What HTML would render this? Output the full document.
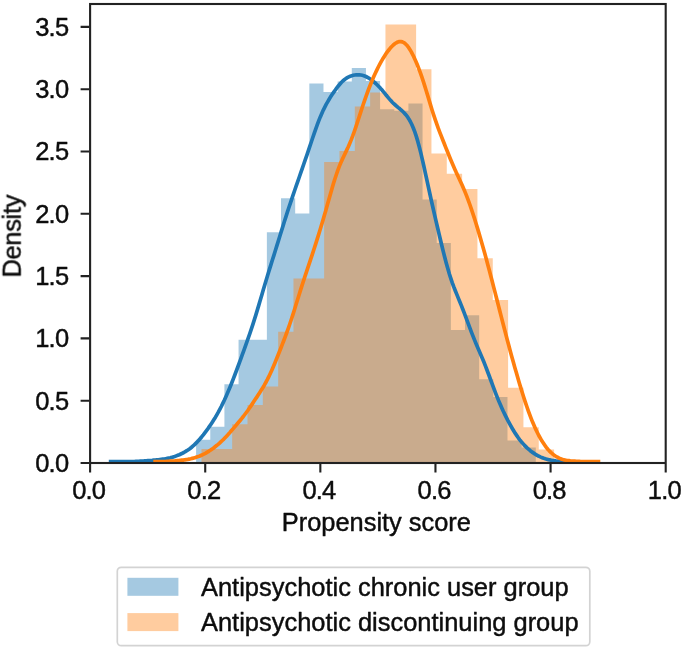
<!DOCTYPE html>
<html><head><meta charset="utf-8"><title>Propensity score density</title>
<style>
html,body{margin:0;padding:0;background:#fff;}
body{width:685px;height:650px;overflow:hidden;position:relative;font-family:"Liberation Sans",sans-serif;}
</style></head><body>
<svg width="685" height="650" viewBox="0 0 685 650" style="position:absolute;left:0;top:0;display:block">
<rect x="0" y="0" width="685" height="650" fill="#fff"/>
<defs><clipPath id="ax"><rect x="90.1" y="4.0" width="575.6" height="460.2"/></clipPath></defs>
<g clip-path="url(#ax)">
<path d="M196.10,463.00 L196.10,439.80 L210.25,439.80 L210.25,426.70 L224.41,426.70 L224.41,384.30 L238.56,384.30 L238.56,339.70 L252.72,339.70 L252.72,339.70 L266.87,339.70 L266.87,232.30 L281.02,232.30 L281.02,198.30 L295.18,198.30 L295.18,213.50 L309.33,213.50 L309.33,83.40 L323.49,83.40 L323.49,92.00 L337.64,92.00 L337.64,81.60 L351.79,81.60 L351.79,68.00 L365.95,68.00 L365.95,81.00 L380.10,81.00 L380.10,109.20 L394.26,109.20 L394.26,110.80 L408.41,110.80 L408.41,103.50 L422.56,103.50 L422.56,199.50 L436.72,199.50 L436.72,243.00 L450.87,243.00 L450.87,330.10 L465.03,330.10 L465.03,315.30 L479.18,315.30 L479.18,379.30 L493.33,379.30 L493.33,396.90 L507.49,396.90 L507.49,440.50 L521.64,440.50 L521.64,447.50 L535.80,447.50 L535.80,463.00 Z" fill="#1f77b4" fill-opacity="0.4"/>
<path d="M201.50,463.00 L201.50,449.00 L216.83,449.00 L216.83,449.00 L232.16,449.00 L232.16,424.30 L247.49,424.30 L247.49,404.90 L262.82,404.90 L262.82,386.50 L278.15,386.50 L278.15,331.80 L293.48,331.80 L293.48,278.50 L308.81,278.50 L308.81,278.50 L324.14,278.50 L324.14,162.00 L339.47,162.00 L339.47,151.00 L354.80,151.00 L354.80,106.40 L370.13,106.40 L370.13,92.50 L385.46,92.50 L385.46,24.60 L400.79,24.60 L400.79,24.60 L416.12,24.60 L416.12,69.20 L431.45,69.20 L431.45,153.40 L446.78,153.40 L446.78,173.80 L462.11,173.80 L462.11,189.00 L477.44,189.00 L477.44,258.20 L492.77,258.20 L492.77,300.00 L508.10,300.00 L508.10,387.70 L523.43,387.70 L523.43,427.30 L538.76,427.30 L538.76,449.60 L554.09,449.60 L554.09,463.00 Z" fill="#ff7f0e" fill-opacity="0.4"/>
<path d="M108.8,461.7 L110.3,461.7 L111.8,461.7 L113.3,461.7 L114.8,461.7 L116.3,461.7 L117.8,461.7 L119.3,461.7 L120.8,461.7 L122.3,461.7 L123.8,461.7 L125.3,461.6 L126.8,461.6 L128.3,461.6 L129.8,461.6 L131.3,461.6 L132.8,461.5 L134.3,461.5 L135.8,461.4 L137.3,461.3 L138.8,461.3 L140.3,461.2 L141.8,461.1 L143.3,461.0 L144.8,460.9 L146.3,460.8 L147.8,460.7 L149.3,460.6 L150.8,460.5 L152.3,460.4 L153.8,460.2 L155.3,460.1 L156.8,459.9 L158.3,459.8 L159.8,459.6 L161.3,459.4 L162.8,459.2 L164.3,459.0 L165.8,458.7 L167.3,458.4 L168.8,458.1 L170.3,457.8 L171.8,457.4 L173.3,456.9 L174.8,456.5 L176.3,455.9 L177.8,455.3 L179.3,454.7 L180.8,454.0 L182.3,453.3 L183.8,452.5 L185.3,451.6 L186.8,450.7 L188.3,449.7 L189.8,448.7 L191.3,447.5 L192.8,446.2 L194.3,444.9 L195.8,443.4 L197.3,441.9 L198.8,440.2 L200.3,438.5 L201.8,436.7 L203.3,434.8 L204.8,432.8 L206.3,430.8 L207.8,428.8 L209.3,426.7 L210.8,424.5 L212.3,422.2 L213.8,419.8 L215.3,417.4 L216.8,414.8 L218.3,412.2 L219.8,409.4 L221.3,406.5 L222.8,403.4 L224.3,400.3 L225.8,397.0 L227.3,393.6 L228.8,390.1 L230.3,386.5 L231.8,382.8 L233.3,378.9 L234.8,375.0 L236.3,371.0 L237.8,367.0 L239.3,362.9 L240.8,358.8 L242.3,354.7 L243.8,350.6 L245.3,346.4 L246.8,342.2 L248.3,337.9 L249.8,333.6 L251.3,329.2 L252.8,324.6 L254.3,319.9 L255.8,315.1 L257.3,310.1 L258.8,305.1 L260.3,300.0 L261.8,294.9 L263.3,289.8 L264.8,284.7 L266.3,279.7 L267.8,274.8 L269.3,269.9 L270.8,265.1 L272.3,260.3 L273.8,255.6 L275.3,250.8 L276.8,245.9 L278.3,241.1 L279.8,236.2 L281.3,231.4 L282.8,226.6 L284.3,221.8 L285.8,217.1 L287.3,212.4 L288.8,207.8 L290.3,203.3 L291.8,198.8 L293.3,194.4 L294.8,190.0 L296.3,185.7 L297.8,181.3 L299.3,177.0 L300.8,172.7 L302.3,168.4 L303.8,164.0 L305.3,159.7 L306.8,155.3 L308.3,150.9 L309.8,146.4 L311.3,142.0 L312.8,137.5 L314.3,133.1 L315.8,128.8 L317.3,124.7 L318.8,120.7 L320.3,116.9 L321.8,113.4 L323.3,110.1 L324.8,107.1 L326.3,104.2 L327.8,101.6 L329.3,99.0 L330.8,96.6 L332.3,94.3 L333.8,92.1 L335.3,90.0 L336.8,87.9 L338.3,86.0 L339.8,84.2 L341.3,82.5 L342.8,81.0 L344.3,79.8 L345.8,78.6 L347.3,77.7 L348.8,76.9 L350.3,76.2 L351.8,75.7 L353.3,75.3 L354.8,75.0 L356.3,74.8 L357.8,74.8 L359.3,74.8 L360.8,75.0 L362.3,75.3 L363.8,75.7 L365.3,76.3 L366.8,77.0 L368.3,77.8 L369.8,78.8 L371.3,79.8 L372.8,81.0 L374.3,82.2 L375.8,83.5 L377.3,85.0 L378.8,86.5 L380.3,88.1 L381.8,89.8 L383.3,91.6 L384.8,93.4 L386.3,95.3 L387.8,97.1 L389.3,98.9 L390.8,100.6 L392.3,102.2 L393.8,103.7 L395.3,105.0 L396.8,106.3 L398.3,107.6 L399.8,108.8 L401.3,110.1 L402.8,111.5 L404.3,113.0 L405.8,114.7 L407.3,116.6 L408.8,118.9 L410.3,121.5 L411.8,124.5 L413.3,128.0 L414.8,131.9 L416.3,136.4 L417.8,141.4 L419.3,147.0 L420.8,152.9 L422.3,159.3 L423.8,165.9 L425.3,172.8 L426.8,179.7 L428.3,186.6 L429.8,193.5 L431.3,200.3 L432.8,207.0 L434.3,213.6 L435.8,220.1 L437.3,226.5 L438.8,232.9 L440.3,239.2 L441.8,245.5 L443.3,251.6 L444.8,257.5 L446.3,263.2 L447.8,268.6 L449.3,273.7 L450.8,278.4 L452.3,282.8 L453.8,286.9 L455.3,290.7 L456.8,294.4 L458.3,298.1 L459.8,301.7 L461.3,305.4 L462.8,309.2 L464.3,313.1 L465.8,317.1 L467.3,321.1 L468.8,325.2 L470.3,329.2 L471.8,333.1 L473.3,336.9 L474.8,340.6 L476.3,344.2 L477.8,347.7 L479.3,351.2 L480.8,354.7 L482.3,358.2 L483.8,361.8 L485.3,365.6 L486.8,369.5 L488.3,373.5 L489.8,377.5 L491.3,381.6 L492.8,385.7 L494.3,389.7 L495.8,393.6 L497.3,397.4 L498.8,401.1 L500.3,404.6 L501.8,408.0 L503.3,411.3 L504.8,414.4 L506.3,417.4 L507.8,420.4 L509.3,423.2 L510.8,425.9 L512.3,428.5 L513.8,431.0 L515.3,433.4 L516.8,435.6 L518.3,437.8 L519.8,439.8 L521.3,441.7 L522.8,443.4 L524.3,445.1 L525.8,446.6 L527.3,448.1 L528.8,449.4 L530.3,450.7 L531.8,451.9 L533.3,452.9 L534.8,453.9 L536.3,454.8 L537.8,455.7 L539.3,456.4 L540.8,457.1 L542.3,457.7 L543.8,458.3 L545.3,458.8 L546.8,459.2 L548.3,459.6 L549.8,459.9 L551.3,460.2 L552.8,460.5 L554.3,460.7 L555.8,460.9 L557.3,461.0 L558.8,461.2 L560.3,461.3 L561.8,461.4 L563.3,461.5 L564.8,461.5 L566.3,461.6 L567.8,461.6" fill="none" stroke="#1f77b4" stroke-width="3.7" stroke-linejoin="round" stroke-linecap="butt"/>
<path d="M153.3,461.7 L154.8,461.7 L156.3,461.7 L157.8,461.6 L159.3,461.6 L160.8,461.6 L162.3,461.5 L163.8,461.5 L165.3,461.5 L166.8,461.4 L168.3,461.3 L169.8,461.2 L171.3,461.2 L172.8,461.1 L174.3,461.0 L175.8,460.8 L177.3,460.7 L178.8,460.6 L180.3,460.4 L181.8,460.2 L183.3,460.1 L184.8,459.8 L186.3,459.6 L187.8,459.4 L189.3,459.1 L190.8,458.8 L192.3,458.4 L193.8,458.0 L195.3,457.6 L196.8,457.1 L198.3,456.6 L199.8,456.0 L201.3,455.3 L202.8,454.6 L204.3,453.9 L205.8,453.1 L207.3,452.2 L208.8,451.3 L210.3,450.3 L211.8,449.2 L213.3,448.2 L214.8,447.0 L216.3,445.8 L217.8,444.6 L219.3,443.3 L220.8,441.9 L222.3,440.5 L223.8,439.1 L225.3,437.5 L226.8,435.9 L228.3,434.3 L229.8,432.6 L231.3,430.8 L232.8,429.1 L234.3,427.4 L235.8,425.6 L237.3,423.8 L238.8,422.0 L240.3,420.2 L241.8,418.4 L243.3,416.5 L244.8,414.5 L246.3,412.5 L247.8,410.5 L249.3,408.3 L250.8,406.1 L252.3,403.9 L253.8,401.6 L255.3,399.3 L256.8,397.1 L258.3,394.8 L259.8,392.5 L261.3,390.1 L262.8,387.7 L264.3,385.2 L265.8,382.5 L267.3,379.7 L268.8,376.7 L270.3,373.5 L271.8,370.2 L273.3,366.7 L274.8,363.2 L276.3,359.5 L277.8,355.8 L279.3,352.0 L280.8,348.2 L282.3,344.4 L283.8,340.5 L285.3,336.6 L286.8,332.5 L288.3,328.3 L289.8,324.0 L291.3,319.5 L292.8,314.9 L294.3,310.2 L295.8,305.3 L297.3,300.5 L298.8,295.7 L300.3,290.9 L301.8,286.1 L303.3,281.5 L304.8,276.9 L306.3,272.4 L307.8,267.9 L309.3,263.4 L310.8,258.9 L312.3,254.4 L313.8,249.8 L315.3,245.1 L316.8,240.4 L318.3,235.6 L319.8,230.8 L321.3,225.8 L322.8,220.7 L324.3,215.6 L325.8,210.4 L327.3,205.1 L328.8,199.8 L330.3,194.5 L331.8,189.2 L333.3,184.1 L334.8,179.3 L336.3,174.7 L337.8,170.4 L339.3,166.4 L340.8,162.8 L342.3,159.4 L343.8,156.2 L345.3,153.1 L346.8,149.9 L348.3,146.7 L349.8,143.2 L351.3,139.6 L352.8,135.7 L354.3,131.5 L355.8,127.1 L357.3,122.6 L358.8,118.0 L360.3,113.4 L361.8,108.8 L363.3,104.2 L364.8,99.8 L366.3,95.6 L367.8,91.5 L369.3,87.5 L370.8,83.7 L372.3,80.1 L373.8,76.6 L375.3,73.3 L376.8,70.1 L378.3,67.0 L379.8,64.2 L381.3,61.4 L382.8,58.8 L384.3,56.4 L385.8,54.1 L387.3,51.9 L388.8,50.0 L390.3,48.1 L391.8,46.5 L393.3,45.0 L394.8,43.8 L396.3,42.8 L397.8,42.0 L399.3,41.6 L400.8,41.6 L402.3,41.9 L403.8,42.6 L405.3,43.7 L406.8,45.2 L408.3,47.1 L409.8,49.4 L411.3,51.9 L412.8,54.8 L414.3,57.9 L415.8,61.2 L417.3,64.8 L418.8,68.6 L420.3,72.6 L421.8,76.9 L423.3,81.4 L424.8,86.1 L426.3,91.0 L427.8,95.9 L429.3,100.9 L430.8,105.9 L432.3,110.7 L433.8,115.4 L435.3,119.9 L436.8,124.2 L438.3,128.4 L439.8,132.3 L441.3,136.2 L442.8,140.0 L444.3,143.8 L445.8,147.6 L447.3,151.3 L448.8,155.0 L450.3,158.7 L451.8,162.3 L453.3,165.8 L454.8,169.2 L456.3,172.6 L457.8,175.8 L459.3,179.0 L460.8,182.3 L462.3,185.6 L463.8,189.0 L465.3,192.6 L466.8,196.4 L468.3,200.3 L469.8,204.5 L471.3,208.8 L472.8,213.3 L474.3,217.9 L475.8,222.7 L477.3,227.6 L478.8,232.6 L480.3,237.7 L481.8,242.9 L483.3,248.2 L484.8,253.6 L486.3,259.1 L487.8,264.7 L489.3,270.3 L490.8,276.0 L492.3,281.8 L493.8,287.6 L495.3,293.4 L496.8,299.3 L498.3,305.1 L499.8,311.0 L501.3,316.9 L502.8,322.7 L504.3,328.5 L505.8,334.3 L507.3,340.0 L508.8,345.6 L510.3,351.2 L511.8,356.7 L513.3,362.1 L514.8,367.4 L516.3,372.6 L517.8,377.8 L519.3,382.9 L520.8,387.9 L522.3,392.7 L523.8,397.5 L525.3,402.1 L526.8,406.5 L528.3,410.8 L529.8,414.9 L531.3,418.8 L532.8,422.6 L534.3,426.1 L535.8,429.4 L537.3,432.5 L538.8,435.5 L540.3,438.2 L541.8,440.8 L543.3,443.1 L544.8,445.3 L546.3,447.4 L547.8,449.2 L549.3,450.9 L550.8,452.4 L552.3,453.7 L553.8,454.9 L555.3,456.0 L556.8,456.9 L558.3,457.7 L559.8,458.4 L561.3,459.0 L562.8,459.5 L564.3,459.9 L565.8,460.2 L567.3,460.5 L568.8,460.7 L570.3,460.9 L571.8,461.0 L573.3,461.1 L574.8,461.2 L576.3,461.3 L577.8,461.4 L579.3,461.4 L580.8,461.5 L582.3,461.5 L583.8,461.6 L585.3,461.6 L586.8,461.6 L588.3,461.6 L589.8,461.6 L591.3,461.6 L592.8,461.6 L594.3,461.6 L595.8,461.7 L597.3,461.7 L598.8,461.7 L600.3,461.7" fill="none" stroke="#ff7f0e" stroke-width="3.7" stroke-linejoin="round" stroke-linecap="butt"/>
</g>
<rect x="90.1" y="4.0" width="575.6" height="459.0" fill="none" stroke="#222222" stroke-width="2.1" stroke-linejoin="miter"/>
<path d="M90.10,464.00 V472.60 M205.22,464.00 V472.60 M320.34,464.00 V472.60 M435.46,464.00 V472.60 M550.58,464.00 V472.60 M665.70,464.00 V472.60 M89.10,463.00 H80.60 M89.10,400.70 H80.60 M89.10,338.40 H80.60 M89.10,276.10 H80.60 M89.10,213.80 H80.60 M89.10,151.50 H80.60 M89.10,89.20 H80.60 M89.10,26.90 H80.60" stroke="#222222" stroke-width="2.1" fill="none"/>
<g font-family="Liberation Sans, sans-serif" font-size="25.5" fill="#0d0d0d" stroke="#0d0d0d" stroke-width="0.45" stroke-linejoin="round" style="opacity:0.999">
<text x="88.70" y="499.4" text-anchor="middle" letter-spacing="-0.8">0.0</text>
<text x="203.82" y="499.4" text-anchor="middle" letter-spacing="-0.8">0.2</text>
<text x="318.94" y="499.4" text-anchor="middle" letter-spacing="-0.8">0.4</text>
<text x="434.06" y="499.4" text-anchor="middle" letter-spacing="-0.8">0.6</text>
<text x="549.18" y="499.4" text-anchor="middle" letter-spacing="-0.8">0.8</text>
<text x="664.30" y="499.4" text-anchor="middle" letter-spacing="-0.8">1.0</text>
<text x="68.30" y="471.80" text-anchor="end" letter-spacing="-0.8">0.0</text>
<text x="68.30" y="409.50" text-anchor="end" letter-spacing="-0.8">0.5</text>
<text x="68.30" y="347.20" text-anchor="end" letter-spacing="-0.8">1.0</text>
<text x="68.30" y="284.90" text-anchor="end" letter-spacing="-0.8">1.5</text>
<text x="68.30" y="222.60" text-anchor="end" letter-spacing="-0.8">2.0</text>
<text x="68.30" y="160.30" text-anchor="end" letter-spacing="-0.8">2.5</text>
<text x="68.30" y="98.00" text-anchor="end" letter-spacing="-0.8">3.0</text>
<text x="68.30" y="35.70" text-anchor="end" letter-spacing="-0.8">3.5</text>
<text x="376.4" y="531.2" text-anchor="middle" font-size="25.4">Propensity score</text>
<text transform="translate(20.7,236.3) rotate(-90)" text-anchor="middle" letter-spacing="-0.35">Density</text>
<rect stroke-linejoin="round" x="117.3" y="567.3" width="472.49999999999994" height="78.40000000000009" rx="4" ry="4" fill="#fff" stroke="#d3d3d3" stroke-width="1.7"/>
<rect x="127.4" y="577.8" width="51" height="18" fill="#1f77b4" fill-opacity="0.4" stroke="none"/>
<rect x="127.4" y="613.1" width="51" height="18" fill="#ff7f0e" fill-opacity="0.4" stroke="none"/>
<text x="201.0" y="595.6" font-size="25.45">Antipsychotic chronic user group</text>
<text x="201.0" y="631.0" font-size="25.45">Antipsychotic discontinuing group</text>
</g>
</svg>
</body></html>
